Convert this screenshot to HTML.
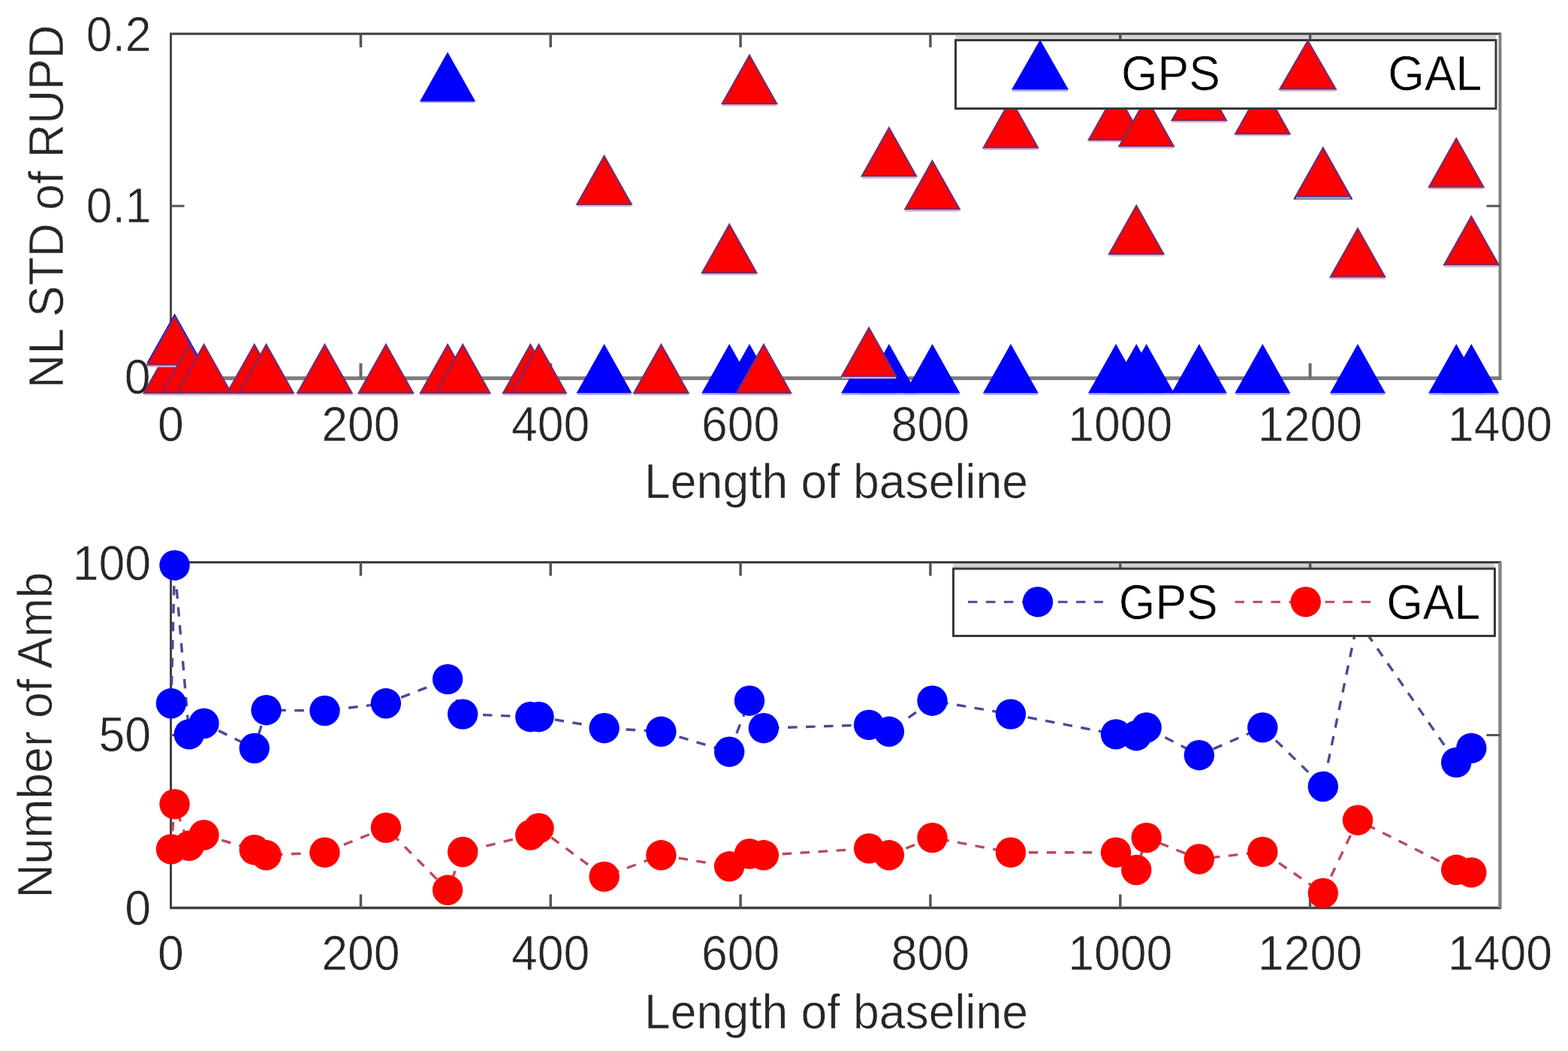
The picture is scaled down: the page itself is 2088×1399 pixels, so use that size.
<!DOCTYPE html>
<html><head><meta charset="utf-8"><title>NL STD of RUPD and Number of Amb vs Length of baseline</title>
<style>html,body{margin:0;padding:0;background:#fff;}body{width:2088px;height:1399px;overflow:hidden;}svg{display:block;filter:blur(0.6px);}text{font-family:"Liberation Sans", Arial, Helvetica, sans-serif;}</style></head><body>
<svg width="2088" height="1399" viewBox="0 0 2088 1399">
<rect x="0" y="0" width="2088" height="1399" fill="#fff"/>
<text transform="translate(227.5,587.0) scale(1,1.030)" font-size="62.5" fill="#262626" stroke="#fff" stroke-width="0.6" text-anchor="middle">0</text>
<text transform="translate(480.4,587.0) scale(1,1.030)" font-size="62.5" fill="#262626" stroke="#fff" stroke-width="0.6" text-anchor="middle">200</text>
<text transform="translate(733.2,587.0) scale(1,1.030)" font-size="62.5" fill="#262626" stroke="#fff" stroke-width="0.6" text-anchor="middle">400</text>
<text transform="translate(986.1,587.0) scale(1,1.030)" font-size="62.5" fill="#262626" stroke="#fff" stroke-width="0.6" text-anchor="middle">600</text>
<text transform="translate(1238.9,587.0) scale(1,1.030)" font-size="62.5" fill="#262626" stroke="#fff" stroke-width="0.6" text-anchor="middle">800</text>
<text transform="translate(1491.8,587.0) scale(1,1.030)" font-size="62.5" fill="#262626" stroke="#fff" stroke-width="0.6" text-anchor="middle">1000</text>
<text transform="translate(1744.6,587.0) scale(1,1.030)" font-size="62.5" fill="#262626" stroke="#fff" stroke-width="0.6" text-anchor="middle">1200</text>
<text transform="translate(1997.5,587.0) scale(1,1.030)" font-size="62.5" fill="#262626" stroke="#fff" stroke-width="0.6" text-anchor="middle">1400</text>
<text transform="translate(201.5,67.5) scale(1,1.030)" font-size="62.5" fill="#262626" stroke="#fff" stroke-width="0.6" text-anchor="end">0.2</text>
<text transform="translate(201.5,296.3) scale(1,1.030)" font-size="62.5" fill="#262626" stroke="#fff" stroke-width="0.6" text-anchor="end">0.1</text>
<text transform="translate(200.5,523.8) scale(1,1.030)" font-size="62.5" fill="#262626" stroke="#fff" stroke-width="0.6" text-anchor="end">0</text>
<text transform="translate(1113.5,662.9) scale(1,1.030)" font-size="62.5" fill="#262626" stroke="#fff" stroke-width="0.6" text-anchor="middle">Length of baseline</text>
<text transform="translate(84.2,275.0) rotate(-90) scale(1,1.030)" font-size="62.5" fill="#262626" stroke="#fff" stroke-width="0.6" text-anchor="middle">NL STD of RUPD</text>
<g id="top-axes">
<rect x="1272.5" y="46.5" width="719.5" height="7" fill="#d4d4d4"/>
<line x1="226.0" y1="45.0" x2="1999.0" y2="45.0" stroke="#3c3c3c" stroke-width="3"/>
<line x1="227.5" y1="45.0" x2="227.5" y2="503.5" stroke="#484848" stroke-width="3"/>
<line x1="227.5" y1="503.5" x2="1999.5" y2="503.5" stroke="#7e7e7e" stroke-width="5"/>
<line x1="1997.5" y1="45.0" x2="1997.5" y2="503.5" stroke="#808080" stroke-width="4"/>
<line x1="480.4" y1="503.5" x2="480.4" y2="483.5" stroke="#6a6a6a" stroke-width="4"/>
<line x1="480.4" y1="45.0" x2="480.4" y2="63.0" stroke="#555" stroke-width="3.5"/>
<line x1="733.2" y1="503.5" x2="733.2" y2="483.5" stroke="#6a6a6a" stroke-width="4"/>
<line x1="733.2" y1="45.0" x2="733.2" y2="63.0" stroke="#555" stroke-width="3.5"/>
<line x1="986.1" y1="503.5" x2="986.1" y2="483.5" stroke="#6a6a6a" stroke-width="4"/>
<line x1="986.1" y1="45.0" x2="986.1" y2="63.0" stroke="#555" stroke-width="3.5"/>
<line x1="1238.9" y1="503.5" x2="1238.9" y2="483.5" stroke="#6a6a6a" stroke-width="4"/>
<line x1="1238.9" y1="45.0" x2="1238.9" y2="63.0" stroke="#555" stroke-width="3.5"/>
<line x1="1491.8" y1="503.5" x2="1491.8" y2="483.5" stroke="#6a6a6a" stroke-width="4"/>
<line x1="1491.8" y1="45.0" x2="1491.8" y2="63.0" stroke="#555" stroke-width="3.5"/>
<line x1="1744.6" y1="503.5" x2="1744.6" y2="483.5" stroke="#6a6a6a" stroke-width="4"/>
<line x1="1744.6" y1="45.0" x2="1744.6" y2="63.0" stroke="#555" stroke-width="3.5"/>
<line x1="227.5" y1="274.2" x2="245.5" y2="274.2" stroke="#555" stroke-width="3"/>
<line x1="1997.5" y1="274.2" x2="1979.5" y2="274.2" stroke="#555" stroke-width="3"/>
</g>
<g id="top-gps">
<polygon points="227.9,459.0 191.9,523.0 263.9,523.0" fill="#0000ff" stroke="#0000e8" stroke-width="1.2" stroke-linejoin="miter"/><line x1="191.9" y1="524.6" x2="263.9" y2="524.6" stroke="#a8a8ff" stroke-width="2.2"/>
<polygon points="232.5,418.5 196.5,482.5 268.5,482.5" fill="#0000ff" stroke="#0000e8" stroke-width="1.2" stroke-linejoin="miter"/><line x1="196.5" y1="484.1" x2="268.5" y2="484.1" stroke="#a8a8ff" stroke-width="2.2"/>
<polygon points="251.8,459.0 215.8,523.0 287.8,523.0" fill="#0000ff" stroke="#0000e8" stroke-width="1.2" stroke-linejoin="miter"/><line x1="215.8" y1="524.6" x2="287.8" y2="524.6" stroke="#a8a8ff" stroke-width="2.2"/>
<polygon points="271.5,459.0 235.5,523.0 307.5,523.0" fill="#0000ff" stroke="#0000e8" stroke-width="1.2" stroke-linejoin="miter"/><line x1="235.5" y1="524.6" x2="307.5" y2="524.6" stroke="#a8a8ff" stroke-width="2.2"/>
<polygon points="338.7,459.0 302.7,523.0 374.7,523.0" fill="#0000ff" stroke="#0000e8" stroke-width="1.2" stroke-linejoin="miter"/><line x1="302.7" y1="524.6" x2="374.7" y2="524.6" stroke="#a8a8ff" stroke-width="2.2"/>
<polygon points="354.5,459.0 318.5,523.0 390.5,523.0" fill="#0000ff" stroke="#0000e8" stroke-width="1.2" stroke-linejoin="miter"/><line x1="318.5" y1="524.6" x2="390.5" y2="524.6" stroke="#a8a8ff" stroke-width="2.2"/>
<polygon points="432.4,459.0 396.4,523.0 468.4,523.0" fill="#0000ff" stroke="#0000e8" stroke-width="1.2" stroke-linejoin="miter"/><line x1="396.4" y1="524.6" x2="468.4" y2="524.6" stroke="#a8a8ff" stroke-width="2.2"/>
<polygon points="513.9,459.0 477.9,523.0 549.9,523.0" fill="#0000ff" stroke="#0000e8" stroke-width="1.2" stroke-linejoin="miter"/><line x1="477.9" y1="524.6" x2="549.9" y2="524.6" stroke="#a8a8ff" stroke-width="2.2"/>
<polygon points="596.1,70.4 560.1,134.4 632.1,134.4" fill="#0000ff" stroke="#0000e8" stroke-width="1.2" stroke-linejoin="miter"/><line x1="560.1" y1="136.0" x2="632.1" y2="136.0" stroke="#a8a8ff" stroke-width="2.2"/>
<polygon points="616.2,459.0 580.2,523.0 652.2,523.0" fill="#0000ff" stroke="#0000e8" stroke-width="1.2" stroke-linejoin="miter"/><line x1="580.2" y1="524.6" x2="652.2" y2="524.6" stroke="#a8a8ff" stroke-width="2.2"/>
<polygon points="706.3,459.0 670.3,523.0 742.3,523.0" fill="#0000ff" stroke="#0000e8" stroke-width="1.2" stroke-linejoin="miter"/><line x1="670.3" y1="524.6" x2="742.3" y2="524.6" stroke="#a8a8ff" stroke-width="2.2"/>
<polygon points="717.5,459.0 681.5,523.0 753.5,523.0" fill="#0000ff" stroke="#0000e8" stroke-width="1.2" stroke-linejoin="miter"/><line x1="681.5" y1="524.6" x2="753.5" y2="524.6" stroke="#a8a8ff" stroke-width="2.2"/>
<polygon points="804.6,459.0 768.6,523.0 840.6,523.0" fill="#0000ff" stroke="#0000e8" stroke-width="1.2" stroke-linejoin="miter"/><line x1="768.6" y1="524.6" x2="840.6" y2="524.6" stroke="#a8a8ff" stroke-width="2.2"/>
<polygon points="880.4,459.0 844.4,523.0 916.4,523.0" fill="#0000ff" stroke="#0000e8" stroke-width="1.2" stroke-linejoin="miter"/><line x1="844.4" y1="524.6" x2="916.4" y2="524.6" stroke="#a8a8ff" stroke-width="2.2"/>
<polygon points="971.2,459.0 935.2,523.0 1007.2,523.0" fill="#0000ff" stroke="#0000e8" stroke-width="1.2" stroke-linejoin="miter"/><line x1="935.2" y1="524.6" x2="1007.2" y2="524.6" stroke="#a8a8ff" stroke-width="2.2"/>
<polygon points="998.0,459.0 962.0,523.0 1034.0,523.0" fill="#0000ff" stroke="#0000e8" stroke-width="1.2" stroke-linejoin="miter"/><line x1="962.0" y1="524.6" x2="1034.0" y2="524.6" stroke="#a8a8ff" stroke-width="2.2"/>
<polygon points="1016.9,459.0 980.9,523.0 1052.9,523.0" fill="#0000ff" stroke="#0000e8" stroke-width="1.2" stroke-linejoin="miter"/><line x1="980.9" y1="524.6" x2="1052.9" y2="524.6" stroke="#a8a8ff" stroke-width="2.2"/>
<polygon points="1157.1,459.0 1121.1,523.0 1193.1,523.0" fill="#0000ff" stroke="#0000e8" stroke-width="1.2" stroke-linejoin="miter"/><line x1="1121.1" y1="524.6" x2="1193.1" y2="524.6" stroke="#a8a8ff" stroke-width="2.2"/>
<polygon points="1183.9,459.0 1147.9,523.0 1219.9,523.0" fill="#0000ff" stroke="#0000e8" stroke-width="1.2" stroke-linejoin="miter"/><line x1="1147.9" y1="524.6" x2="1219.9" y2="524.6" stroke="#a8a8ff" stroke-width="2.2"/>
<polygon points="1241.5,459.0 1205.5,523.0 1277.5,523.0" fill="#0000ff" stroke="#0000e8" stroke-width="1.2" stroke-linejoin="miter"/><line x1="1205.5" y1="524.6" x2="1277.5" y2="524.6" stroke="#a8a8ff" stroke-width="2.2"/>
<polygon points="1345.9,459.0 1309.9,523.0 1381.9,523.0" fill="#0000ff" stroke="#0000e8" stroke-width="1.2" stroke-linejoin="miter"/><line x1="1309.9" y1="524.6" x2="1381.9" y2="524.6" stroke="#a8a8ff" stroke-width="2.2"/>
<polygon points="1486.0,459.0 1450.0,523.0 1522.0,523.0" fill="#0000ff" stroke="#0000e8" stroke-width="1.2" stroke-linejoin="miter"/><line x1="1450.0" y1="524.6" x2="1522.0" y2="524.6" stroke="#a8a8ff" stroke-width="2.2"/>
<polygon points="1513.2,459.0 1477.2,523.0 1549.2,523.0" fill="#0000ff" stroke="#0000e8" stroke-width="1.2" stroke-linejoin="miter"/><line x1="1477.2" y1="524.6" x2="1549.2" y2="524.6" stroke="#a8a8ff" stroke-width="2.2"/>
<polygon points="1526.6,459.0 1490.6,523.0 1562.6,523.0" fill="#0000ff" stroke="#0000e8" stroke-width="1.2" stroke-linejoin="miter"/><line x1="1490.6" y1="524.6" x2="1562.6" y2="524.6" stroke="#a8a8ff" stroke-width="2.2"/>
<polygon points="1596.8,459.0 1560.8,523.0 1632.8,523.0" fill="#0000ff" stroke="#0000e8" stroke-width="1.2" stroke-linejoin="miter"/><line x1="1560.8" y1="524.6" x2="1632.8" y2="524.6" stroke="#a8a8ff" stroke-width="2.2"/>
<polygon points="1681.3,459.0 1645.3,523.0 1717.3,523.0" fill="#0000ff" stroke="#0000e8" stroke-width="1.2" stroke-linejoin="miter"/><line x1="1645.3" y1="524.6" x2="1717.3" y2="524.6" stroke="#a8a8ff" stroke-width="2.2"/>
<polygon points="1761.8,197.0 1723.8,264.5 1799.8,264.5" fill="#0000ff" stroke="#1a2a9a" stroke-width="2.0" stroke-linejoin="miter"/>
<polygon points="1808.0,459.0 1772.0,523.0 1844.0,523.0" fill="#0000ff" stroke="#0000e8" stroke-width="1.2" stroke-linejoin="miter"/><line x1="1772.0" y1="524.6" x2="1844.0" y2="524.6" stroke="#a8a8ff" stroke-width="2.2"/>
<polygon points="1939.2,459.0 1903.2,523.0 1975.2,523.0" fill="#0000ff" stroke="#0000e8" stroke-width="1.2" stroke-linejoin="miter"/><line x1="1903.2" y1="524.6" x2="1975.2" y2="524.6" stroke="#a8a8ff" stroke-width="2.2"/>
<polygon points="1959.3,459.0 1923.3,523.0 1995.3,523.0" fill="#0000ff" stroke="#0000e8" stroke-width="1.2" stroke-linejoin="miter"/><line x1="1923.3" y1="524.6" x2="1995.3" y2="524.6" stroke="#a8a8ff" stroke-width="2.2"/>
</g><g id="top-gal">
<polygon points="227.9,459.0 191.9,523.0 263.9,523.0" fill="#ff0000" stroke="#7a2a6a" stroke-width="2.4" stroke-linejoin="miter"/><line x1="191.9" y1="525.2" x2="263.9" y2="525.2" stroke="#d4b4c4" stroke-width="2.2"/>
<polygon points="232.5,421.5 196.5,485.5 268.5,485.5" fill="#ff0000" stroke="#7a2a6a" stroke-width="2.4" stroke-linejoin="miter"/><line x1="196.5" y1="487.7" x2="268.5" y2="487.7" stroke="#d4b4c4" stroke-width="2.2"/>
<polygon points="251.8,459.0 215.8,523.0 287.8,523.0" fill="#ff0000" stroke="#7a2a6a" stroke-width="2.4" stroke-linejoin="miter"/><line x1="215.8" y1="525.2" x2="287.8" y2="525.2" stroke="#d4b4c4" stroke-width="2.2"/>
<polygon points="271.5,459.0 235.5,523.0 307.5,523.0" fill="#ff0000" stroke="#7a2a6a" stroke-width="2.4" stroke-linejoin="miter"/><line x1="235.5" y1="525.2" x2="307.5" y2="525.2" stroke="#d4b4c4" stroke-width="2.2"/>
<polygon points="338.7,459.0 302.7,523.0 374.7,523.0" fill="#ff0000" stroke="#7a2a6a" stroke-width="2.4" stroke-linejoin="miter"/><line x1="302.7" y1="525.2" x2="374.7" y2="525.2" stroke="#d4b4c4" stroke-width="2.2"/>
<polygon points="354.5,459.0 318.5,523.0 390.5,523.0" fill="#ff0000" stroke="#7a2a6a" stroke-width="2.4" stroke-linejoin="miter"/><line x1="318.5" y1="525.2" x2="390.5" y2="525.2" stroke="#d4b4c4" stroke-width="2.2"/>
<polygon points="432.4,459.0 396.4,523.0 468.4,523.0" fill="#ff0000" stroke="#7a2a6a" stroke-width="2.4" stroke-linejoin="miter"/><line x1="396.4" y1="525.2" x2="468.4" y2="525.2" stroke="#d4b4c4" stroke-width="2.2"/>
<polygon points="513.9,459.0 477.9,523.0 549.9,523.0" fill="#ff0000" stroke="#7a2a6a" stroke-width="2.4" stroke-linejoin="miter"/><line x1="477.9" y1="525.2" x2="549.9" y2="525.2" stroke="#d4b4c4" stroke-width="2.2"/>
<polygon points="596.1,459.0 560.1,523.0 632.1,523.0" fill="#ff0000" stroke="#7a2a6a" stroke-width="2.4" stroke-linejoin="miter"/><line x1="560.1" y1="525.2" x2="632.1" y2="525.2" stroke="#d4b4c4" stroke-width="2.2"/>
<polygon points="616.2,459.0 580.2,523.0 652.2,523.0" fill="#ff0000" stroke="#7a2a6a" stroke-width="2.4" stroke-linejoin="miter"/><line x1="580.2" y1="525.2" x2="652.2" y2="525.2" stroke="#d4b4c4" stroke-width="2.2"/>
<polygon points="706.3,459.0 670.3,523.0 742.3,523.0" fill="#ff0000" stroke="#7a2a6a" stroke-width="2.4" stroke-linejoin="miter"/><line x1="670.3" y1="525.2" x2="742.3" y2="525.2" stroke="#d4b4c4" stroke-width="2.2"/>
<polygon points="717.5,459.0 681.5,523.0 753.5,523.0" fill="#ff0000" stroke="#7a2a6a" stroke-width="2.4" stroke-linejoin="miter"/><line x1="681.5" y1="525.2" x2="753.5" y2="525.2" stroke="#d4b4c4" stroke-width="2.2"/>
<polygon points="804.6,207.9 768.6,271.9 840.6,271.9" fill="#ff0000" stroke="#7a2a6a" stroke-width="2.4" stroke-linejoin="miter"/><line x1="768.6" y1="274.1" x2="840.6" y2="274.1" stroke="#d4b4c4" stroke-width="2.2"/>
<polygon points="880.4,459.0 844.4,523.0 916.4,523.0" fill="#ff0000" stroke="#7a2a6a" stroke-width="2.4" stroke-linejoin="miter"/><line x1="844.4" y1="525.2" x2="916.4" y2="525.2" stroke="#d4b4c4" stroke-width="2.2"/>
<polygon points="971.2,299.0 935.2,363.0 1007.2,363.0" fill="#ff0000" stroke="#7a2a6a" stroke-width="2.4" stroke-linejoin="miter"/><line x1="935.2" y1="365.2" x2="1007.2" y2="365.2" stroke="#d4b4c4" stroke-width="2.2"/>
<polygon points="998.0,73.9 962.0,137.9 1034.0,137.9" fill="#ff0000" stroke="#7a2a6a" stroke-width="2.4" stroke-linejoin="miter"/><line x1="962.0" y1="140.1" x2="1034.0" y2="140.1" stroke="#d4b4c4" stroke-width="2.2"/>
<polygon points="1016.9,459.0 980.9,523.0 1052.9,523.0" fill="#ff0000" stroke="#7a2a6a" stroke-width="2.4" stroke-linejoin="miter"/><line x1="980.9" y1="525.2" x2="1052.9" y2="525.2" stroke="#d4b4c4" stroke-width="2.2"/>
<polygon points="1157.1,436.7 1121.1,500.7 1193.1,500.7" fill="#ff0000" stroke="#7a2a6a" stroke-width="2.4" stroke-linejoin="miter"/><line x1="1121.1" y1="502.9" x2="1193.1" y2="502.9" stroke="#d4b4c4" stroke-width="2.2"/>
<polygon points="1183.9,170.4 1147.9,234.4 1219.9,234.4" fill="#ff0000" stroke="#7a2a6a" stroke-width="2.4" stroke-linejoin="miter"/><line x1="1147.9" y1="236.6" x2="1219.9" y2="236.6" stroke="#d4b4c4" stroke-width="2.2"/>
<polygon points="1241.5,214.4 1205.5,278.4 1277.5,278.4" fill="#ff0000" stroke="#7a2a6a" stroke-width="2.4" stroke-linejoin="miter"/><line x1="1205.5" y1="280.6" x2="1277.5" y2="280.6" stroke="#d4b4c4" stroke-width="2.2"/>
<polygon points="1345.9,132.5 1309.9,196.5 1381.9,196.5" fill="#ff0000" stroke="#7a2a6a" stroke-width="2.4" stroke-linejoin="miter"/><line x1="1309.9" y1="198.7" x2="1381.9" y2="198.7" stroke="#d4b4c4" stroke-width="2.2"/>
<polygon points="1486.0,122.0 1450.0,186.0 1522.0,186.0" fill="#ff0000" stroke="#7a2a6a" stroke-width="2.4" stroke-linejoin="miter"/><line x1="1450.0" y1="188.2" x2="1522.0" y2="188.2" stroke="#d4b4c4" stroke-width="2.2"/>
<polygon points="1513.2,274.0 1477.2,338.0 1549.2,338.0" fill="#ff0000" stroke="#7a2a6a" stroke-width="2.4" stroke-linejoin="miter"/><line x1="1477.2" y1="340.2" x2="1549.2" y2="340.2" stroke="#d4b4c4" stroke-width="2.2"/>
<polygon points="1526.6,130.5 1490.6,194.5 1562.6,194.5" fill="#ff0000" stroke="#7a2a6a" stroke-width="2.4" stroke-linejoin="miter"/><line x1="1490.6" y1="196.7" x2="1562.6" y2="196.7" stroke="#d4b4c4" stroke-width="2.2"/>
<polygon points="1596.8,96.0 1560.8,160.0 1632.8,160.0" fill="#ff0000" stroke="#7a2a6a" stroke-width="2.4" stroke-linejoin="miter"/><line x1="1560.8" y1="162.2" x2="1632.8" y2="162.2" stroke="#d4b4c4" stroke-width="2.2"/>
<polygon points="1681.3,114.0 1645.3,178.0 1717.3,178.0" fill="#ff0000" stroke="#7a2a6a" stroke-width="2.4" stroke-linejoin="miter"/><line x1="1645.3" y1="180.2" x2="1717.3" y2="180.2" stroke="#d4b4c4" stroke-width="2.2"/>
<polygon points="1761.8,197.3 1725.8,261.3 1797.8,261.3" fill="#ff0000" stroke="#7a2a6a" stroke-width="2.4" stroke-linejoin="miter"/><line x1="1725.8" y1="263.5" x2="1797.8" y2="263.5" stroke="#d4b4c4" stroke-width="2.2"/>
<polygon points="1808.0,304.5 1772.0,368.5 1844.0,368.5" fill="#ff0000" stroke="#7a2a6a" stroke-width="2.4" stroke-linejoin="miter"/><line x1="1772.0" y1="370.7" x2="1844.0" y2="370.7" stroke="#d4b4c4" stroke-width="2.2"/>
<polygon points="1939.2,184.7 1903.2,248.7 1975.2,248.7" fill="#ff0000" stroke="#7a2a6a" stroke-width="2.4" stroke-linejoin="miter"/><line x1="1903.2" y1="250.9" x2="1975.2" y2="250.9" stroke="#d4b4c4" stroke-width="2.2"/>
<polygon points="1959.3,288.4 1923.3,352.4 1995.3,352.4" fill="#ff0000" stroke="#7a2a6a" stroke-width="2.4" stroke-linejoin="miter"/><line x1="1923.3" y1="354.6" x2="1995.3" y2="354.6" stroke="#d4b4c4" stroke-width="2.2"/>
</g>
<rect x="1272.5" y="53.5" width="719.5" height="91.0" fill="#fff" stroke="#383838" stroke-width="3"/>
<polygon points="1385.0,54.0 1348.0,119.0 1422.0,119.0" fill="#0000ff" stroke="#0000e8" stroke-width="1.2" stroke-linejoin="miter"/><line x1="1348.0" y1="120.6" x2="1422.0" y2="120.6" stroke="#a8a8ff" stroke-width="2.2"/>
<polygon points="1741.5,54.5 1704.5,118.5 1778.5,118.5" fill="#ff0000" stroke="#7a2a6a" stroke-width="2.4" stroke-linejoin="miter"/><line x1="1704.5" y1="120.7" x2="1778.5" y2="120.7" stroke="#d4b4c4" stroke-width="2.2"/>
<text transform="translate(1493.0,119.6) scale(1,1.030)" font-size="62.5" fill="#000" stroke="#fff" stroke-width="0.6">GPS</text>
<text transform="translate(1848.3,120.2) scale(1,1.030)" font-size="62.5" fill="#000" stroke="#fff" stroke-width="0.6">GAL</text>
<text transform="translate(227.5,1291.3) scale(1,1.030)" font-size="62.5" fill="#262626" stroke="#fff" stroke-width="0.6" text-anchor="middle">0</text>
<text transform="translate(480.4,1291.3) scale(1,1.030)" font-size="62.5" fill="#262626" stroke="#fff" stroke-width="0.6" text-anchor="middle">200</text>
<text transform="translate(733.2,1291.3) scale(1,1.030)" font-size="62.5" fill="#262626" stroke="#fff" stroke-width="0.6" text-anchor="middle">400</text>
<text transform="translate(986.1,1291.3) scale(1,1.030)" font-size="62.5" fill="#262626" stroke="#fff" stroke-width="0.6" text-anchor="middle">600</text>
<text transform="translate(1238.9,1291.3) scale(1,1.030)" font-size="62.5" fill="#262626" stroke="#fff" stroke-width="0.6" text-anchor="middle">800</text>
<text transform="translate(1491.8,1291.3) scale(1,1.030)" font-size="62.5" fill="#262626" stroke="#fff" stroke-width="0.6" text-anchor="middle">1000</text>
<text transform="translate(1744.6,1291.3) scale(1,1.030)" font-size="62.5" fill="#262626" stroke="#fff" stroke-width="0.6" text-anchor="middle">1200</text>
<text transform="translate(1997.5,1291.3) scale(1,1.030)" font-size="62.5" fill="#262626" stroke="#fff" stroke-width="0.6" text-anchor="middle">1400</text>
<text transform="translate(201.0,771.8) scale(1,1.030)" font-size="62.5" fill="#262626" stroke="#fff" stroke-width="0.6" text-anchor="end">100</text>
<text transform="translate(201.0,999.8) scale(1,1.030)" font-size="62.5" fill="#262626" stroke="#fff" stroke-width="0.6" text-anchor="end">50</text>
<text transform="translate(201.0,1231.0) scale(1,1.030)" font-size="62.5" fill="#262626" stroke="#fff" stroke-width="0.6" text-anchor="end">0</text>
<text transform="translate(1113.5,1369.0) scale(1,1.030)" font-size="62.5" fill="#262626" stroke="#fff" stroke-width="0.6" text-anchor="middle">Length of baseline</text>
<text transform="translate(68.5,978.5) rotate(-90) scale(1,1.030)" font-size="62.5" fill="#262626" stroke="#fff" stroke-width="0.6" text-anchor="middle">Number of Amb</text>
<g id="bot-axes">
<rect x="1269.5" y="750" width="721" height="7" fill="#d0d0d0"/>
<line x1="226.0" y1="748.5" x2="1999.0" y2="748.5" stroke="#3c3c3c" stroke-width="3"/>
<line x1="227.5" y1="748.5" x2="227.5" y2="1208.5" stroke="#404040" stroke-width="3"/>
<line x1="226.0" y1="1208.5" x2="1999.0" y2="1208.5" stroke="#404040" stroke-width="3.5"/>
<line x1="1997.5" y1="748.5" x2="1997.5" y2="1208.5" stroke="#858585" stroke-width="4.5"/>
<line x1="480.4" y1="1208.5" x2="480.4" y2="1190.5" stroke="#555" stroke-width="3.5"/>
<line x1="480.4" y1="748.5" x2="480.4" y2="766.5" stroke="#555" stroke-width="3.5"/>
<line x1="733.2" y1="1208.5" x2="733.2" y2="1190.5" stroke="#555" stroke-width="3.5"/>
<line x1="733.2" y1="748.5" x2="733.2" y2="766.5" stroke="#555" stroke-width="3.5"/>
<line x1="986.1" y1="1208.5" x2="986.1" y2="1190.5" stroke="#555" stroke-width="3.5"/>
<line x1="986.1" y1="748.5" x2="986.1" y2="766.5" stroke="#555" stroke-width="3.5"/>
<line x1="1238.9" y1="1208.5" x2="1238.9" y2="1190.5" stroke="#555" stroke-width="3.5"/>
<line x1="1238.9" y1="748.5" x2="1238.9" y2="766.5" stroke="#555" stroke-width="3.5"/>
<line x1="1491.8" y1="1208.5" x2="1491.8" y2="1190.5" stroke="#555" stroke-width="3.5"/>
<line x1="1491.8" y1="748.5" x2="1491.8" y2="766.5" stroke="#555" stroke-width="3.5"/>
<line x1="1744.6" y1="1208.5" x2="1744.6" y2="1190.5" stroke="#555" stroke-width="3.5"/>
<line x1="1744.6" y1="748.5" x2="1744.6" y2="766.5" stroke="#555" stroke-width="3.5"/>
<line x1="227.5" y1="978.5" x2="245.5" y2="978.5" stroke="#555" stroke-width="3"/>
<line x1="1997.5" y1="978.5" x2="1979.5" y2="978.5" stroke="#555" stroke-width="3"/>
</g>
<polyline points="227.9,936.3 232.5,752.4 251.8,977.4 271.5,963.0 338.7,996.0 354.5,945.2 432.4,946.0 513.9,936.3 596.1,904.1 616.2,950.6 706.3,954.2 717.5,954.2 804.6,969.2 880.4,973.8 971.2,1000.7 998.0,932.7 1016.9,969.2 1157.1,964.9 1183.9,973.8 1241.5,932.7 1345.9,950.6 1486.0,977.4 1513.2,979.2 1526.6,968.5 1596.8,1005.2 1681.3,968.4 1761.8,1047.0 1808.0,825.5 1939.2,1014.9 1959.3,995.9" stroke="#4a4a96" stroke-dasharray="12.5 11.5" stroke-width="3.4" fill="none" stroke-linejoin="round"/>
<g id="bot-gps">
<circle cx="227.9" cy="936.3" r="20.2" fill="#0000ff"/>
<circle cx="232.5" cy="752.4" r="20.2" fill="#0000ff"/>
<circle cx="251.8" cy="977.4" r="20.2" fill="#0000ff"/>
<circle cx="271.5" cy="963.0" r="20.2" fill="#0000ff"/>
<circle cx="338.7" cy="996.0" r="20.2" fill="#0000ff"/>
<circle cx="354.5" cy="945.2" r="20.2" fill="#0000ff"/>
<circle cx="432.4" cy="946.0" r="20.2" fill="#0000ff"/>
<circle cx="513.9" cy="936.3" r="20.2" fill="#0000ff"/>
<circle cx="596.1" cy="904.1" r="20.2" fill="#0000ff"/>
<circle cx="616.2" cy="950.6" r="20.2" fill="#0000ff"/>
<circle cx="706.3" cy="954.2" r="20.2" fill="#0000ff"/>
<circle cx="717.5" cy="954.2" r="20.2" fill="#0000ff"/>
<circle cx="804.6" cy="969.2" r="20.2" fill="#0000ff"/>
<circle cx="880.4" cy="973.8" r="20.2" fill="#0000ff"/>
<circle cx="971.2" cy="1000.7" r="20.2" fill="#0000ff"/>
<circle cx="998.0" cy="932.7" r="20.2" fill="#0000ff"/>
<circle cx="1016.9" cy="969.2" r="20.2" fill="#0000ff"/>
<circle cx="1157.1" cy="964.9" r="20.2" fill="#0000ff"/>
<circle cx="1183.9" cy="973.8" r="20.2" fill="#0000ff"/>
<circle cx="1241.5" cy="932.7" r="20.2" fill="#0000ff"/>
<circle cx="1345.9" cy="950.6" r="20.2" fill="#0000ff"/>
<circle cx="1486.0" cy="977.4" r="20.2" fill="#0000ff"/>
<circle cx="1513.2" cy="979.2" r="20.2" fill="#0000ff"/>
<circle cx="1526.6" cy="968.5" r="20.2" fill="#0000ff"/>
<circle cx="1596.8" cy="1005.2" r="20.2" fill="#0000ff"/>
<circle cx="1681.3" cy="968.4" r="20.2" fill="#0000ff"/>
<circle cx="1761.8" cy="1047.0" r="20.2" fill="#0000ff"/>
<circle cx="1808.0" cy="825.5" r="20.2" fill="#0000ff"/>
<circle cx="1939.2" cy="1014.9" r="20.2" fill="#0000ff"/>
<circle cx="1959.3" cy="995.9" r="20.2" fill="#0000ff"/>
</g>
<polyline points="227.9,1130.4 232.5,1070.4 251.8,1125.8 271.5,1111.5 338.7,1131.2 354.5,1138.3 432.4,1134.7 513.9,1101.8 596.1,1184.8 616.2,1134.0 706.3,1111.5 717.5,1102.5 804.6,1166.9 880.4,1138.3 971.2,1153.3 998.0,1136.5 1016.9,1138.3 1157.1,1129.4 1183.9,1138.3 1241.5,1115.1 1345.9,1134.7 1486.0,1134.7 1513.2,1158.0 1526.6,1115.1 1596.8,1143.5 1681.3,1133.9 1761.8,1188.9 1808.0,1091.7 1939.2,1157.8 1959.3,1161.4" stroke="#bc4a5a" stroke-dasharray="12.5 11.5" stroke-width="3.4" fill="none" stroke-linejoin="round"/>
<g id="bot-gal">
<circle cx="227.9" cy="1130.4" r="20.2" fill="#ff0000"/>
<circle cx="232.5" cy="1070.4" r="20.2" fill="#ff0000"/>
<circle cx="251.8" cy="1125.8" r="20.2" fill="#ff0000"/>
<circle cx="271.5" cy="1111.5" r="20.2" fill="#ff0000"/>
<circle cx="338.7" cy="1131.2" r="20.2" fill="#ff0000"/>
<circle cx="354.5" cy="1138.3" r="20.2" fill="#ff0000"/>
<circle cx="432.4" cy="1134.7" r="20.2" fill="#ff0000"/>
<circle cx="513.9" cy="1101.8" r="20.2" fill="#ff0000"/>
<circle cx="596.1" cy="1184.8" r="20.2" fill="#ff0000"/>
<circle cx="616.2" cy="1134.0" r="20.2" fill="#ff0000"/>
<circle cx="706.3" cy="1111.5" r="20.2" fill="#ff0000"/>
<circle cx="717.5" cy="1102.5" r="20.2" fill="#ff0000"/>
<circle cx="804.6" cy="1166.9" r="20.2" fill="#ff0000"/>
<circle cx="880.4" cy="1138.3" r="20.2" fill="#ff0000"/>
<circle cx="971.2" cy="1153.3" r="20.2" fill="#ff0000"/>
<circle cx="998.0" cy="1136.5" r="20.2" fill="#ff0000"/>
<circle cx="1016.9" cy="1138.3" r="20.2" fill="#ff0000"/>
<circle cx="1157.1" cy="1129.4" r="20.2" fill="#ff0000"/>
<circle cx="1183.9" cy="1138.3" r="20.2" fill="#ff0000"/>
<circle cx="1241.5" cy="1115.1" r="20.2" fill="#ff0000"/>
<circle cx="1345.9" cy="1134.7" r="20.2" fill="#ff0000"/>
<circle cx="1486.0" cy="1134.7" r="20.2" fill="#ff0000"/>
<circle cx="1513.2" cy="1158.0" r="20.2" fill="#ff0000"/>
<circle cx="1526.6" cy="1115.1" r="20.2" fill="#ff0000"/>
<circle cx="1596.8" cy="1143.5" r="20.2" fill="#ff0000"/>
<circle cx="1681.3" cy="1133.9" r="20.2" fill="#ff0000"/>
<circle cx="1761.8" cy="1188.9" r="20.2" fill="#ff0000"/>
<circle cx="1808.0" cy="1091.7" r="20.2" fill="#ff0000"/>
<circle cx="1939.2" cy="1157.8" r="20.2" fill="#ff0000"/>
<circle cx="1959.3" cy="1161.4" r="20.2" fill="#ff0000"/>
</g>
<rect x="1269.5" y="757.0" width="721.0" height="89.5" fill="#fff" stroke="#383838" stroke-width="3"/>
<line x1="1289" y1="801.2" x2="1469" y2="801.2" stroke="#4a4a96" stroke-dasharray="12.5 11.5" stroke-width="2.9" fill="none" stroke-linejoin="round"/>
<circle cx="1382.0" cy="801.2" r="20.2" fill="#0000ff"/>
<line x1="1644.5" y1="801.2" x2="1826" y2="801.2" stroke="#bc4a5a" stroke-dasharray="12.5 11.5" stroke-width="2.9" fill="none" stroke-linejoin="round"/>
<circle cx="1738.7" cy="801.2" r="20.2" fill="#ff0000"/>
<text transform="translate(1489.8,824.0) scale(1,1.030)" font-size="62.5" fill="#000" stroke="#fff" stroke-width="0.6">GPS</text>
<text transform="translate(1846.2,824.3) scale(1,1.030)" font-size="62.5" fill="#000" stroke="#fff" stroke-width="0.6">GAL</text>
</svg></body></html>
